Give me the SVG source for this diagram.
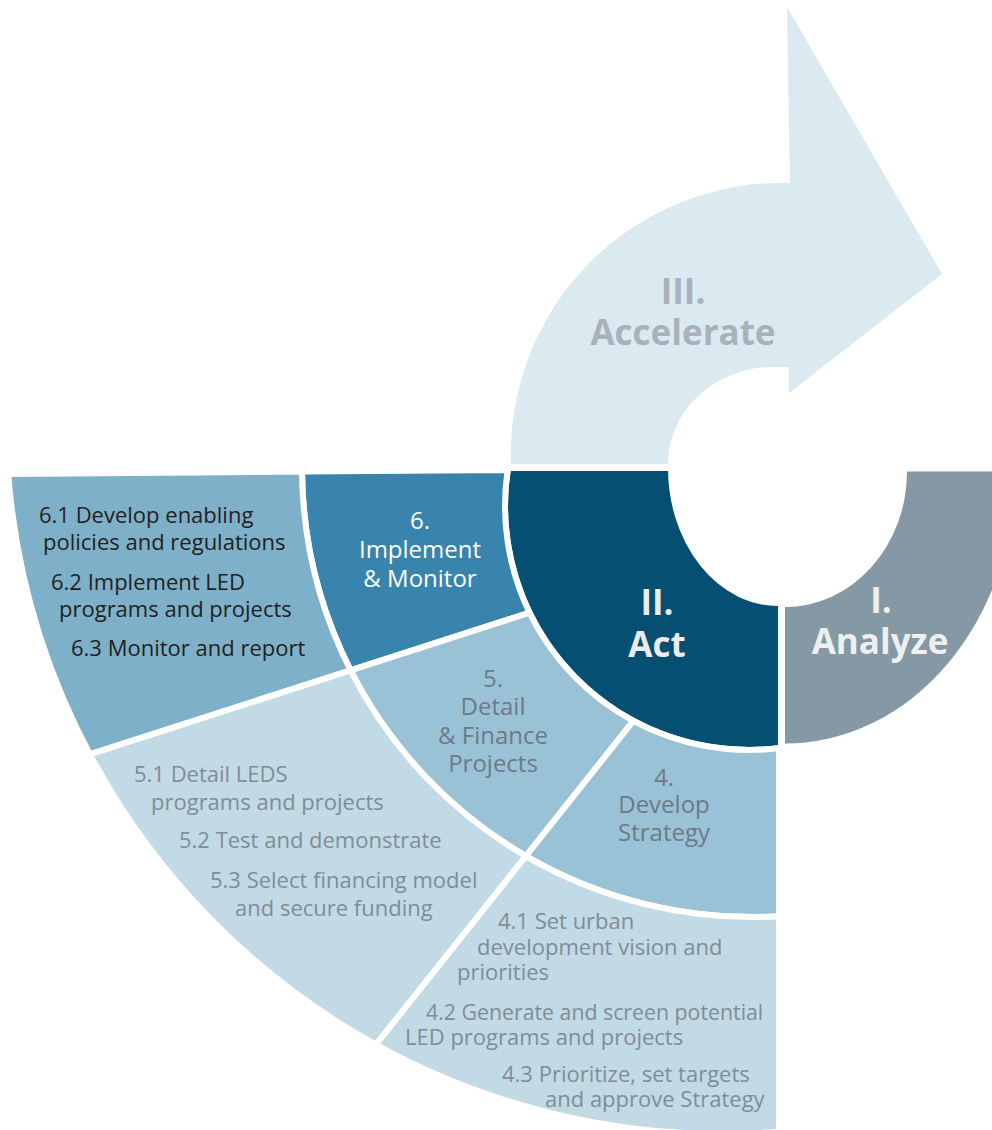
<svg xmlns="http://www.w3.org/2000/svg" width="992" height="1130" viewBox="0 0 992 1130">
<style>
.seg{stroke:#ffffff;stroke-width:6;stroke-linejoin:miter}
.big{font-family:"Open Sans","Noto Sans","Liberation Sans",sans-serif;font-weight:700;font-size:35px;text-anchor:middle}
.mid{font-family:"Open Sans","Noto Sans","Liberation Sans",sans-serif;font-size:24px;text-anchor:middle}
.sub{font-family:"Open Sans","Noto Sans","Liberation Sans",sans-serif;font-size:22px}
</style>
<rect width="992" height="1130" fill="#ffffff"/>
<g id="accelerate">
<path d="M511 464 A271 271 0 0 1 790 183 L787 7 L942 274 L789 393 L789 367 L773 367 A105 97 0 0 0 668 464 Z" fill="#dbe9f1"/>
<text class="big" x="683" y="304" fill="#a9b2ba">III.</text>
<text class="big" x="683" y="345" fill="#a9b2ba">Accelerate</text>
</g>
<g id="analyze">
<path d="M907 471.5 L1015 471.5 A230 272 0 0 1 785 743.5 L785 607 A122 135.5 0 0 0 907 471.5 Z" fill="#8499a5"/>
<text class="big" x="881" y="613" fill="#efefef">I.</text>
<text class="big" x="880" y="654" fill="#efefef">Analyze</text>
</g>
<g id="act">
<path class="seg" d="M508 468 L671 468 A107 135 0 0 0 778 603 L781 603 L781 747.9 A244 244 0 0 1 508 468 Z" fill="#054f73"/>
<text class="big" x="657" y="615" fill="#ececec">II.</text>
<text class="big" x="657" y="657" fill="#ececec">Act</text>
</g>
<g id="step6">
<path class="seg" d="M302 471.6 L507.7 470 A244 244 0 0 0 529.6 612.7 L350.6 670.4 A450 450 0 0 1 302 471.6 Z" fill="#3884ac"/>
<text class="mid" x="420" y="529" fill="#ffffff">6.</text>
<text class="mid" x="420" y="558" fill="#ffffff">Implement</text>
<text class="mid" x="420" y="587" fill="#ffffff">&amp; Monitor</text>
</g>
<g id="step5">
<path class="seg" d="M529.6 612.7 A244 244 0 0 0 633.4 720.9 L525.9 856.1 A450 450 0 0 1 350.6 670.4 Z" fill="#9ac2d6"/>
<text class="mid" x="493" y="687" fill="#6b7b86">5.</text>
<text class="mid" x="493" y="715" fill="#6b7b86">Detail</text>
<text class="mid" x="493" y="744" fill="#6b7b86">&amp; Finance</text>
<text class="mid" x="493" y="772" fill="#6b7b86">Projects</text>
</g>
<g id="step4">
<path class="seg" d="M633.4 720.9 A244 244 0 0 0 779 748.1 L779 916.2 A450 450 0 0 1 525.9 856.1 Z" fill="#9ac2d6"/>
<text class="mid" x="664" y="786" fill="#6b7b86">4.</text>
<text class="mid" x="664" y="813" fill="#6b7b86">Develop</text>
<text class="mid" x="664" y="841" fill="#6b7b86">Strategy</text>
</g>
<g id="tasks6">
<path class="seg" d="M8.2 474 L302 471.6 A450 450 0 0 0 350.6 670.4 L89.9 754.3 A716 716 0 0 1 8.2 474 Z" fill="#7eb0ca"/>
<text class="sub" fill="#231f20"><tspan x="39" y="523">6.1 Develop enabling</tspan><tspan x="43" y="550">policies and regulations</tspan><tspan x="51" y="590">6.2 Implement LED</tspan><tspan x="59" y="617">programs and projects</tspan><tspan x="71" y="656">6.3 Monitor and report</tspan></text>
</g>
<g id="tasks5">
<path class="seg" d="M350.6 670.4 A450 450 0 0 0 525.9 856.1 L375.9 1044.7 A716 716 0 0 1 89.9 754.3 Z" fill="#c1dae5"/>
<text class="sub" fill="#808d96"><tspan x="134" y="782">5.1 Detail LEDS</tspan><tspan x="151" y="810">programs and projects</tspan><tspan x="179" y="848">5.2 Test and demonstrate</tspan><tspan x="210" y="888">5.3 Select financing model</tspan><tspan x="235" y="916">and secure funding</tspan></text>
</g>
<g id="tasks4">
<path class="seg" d="M525.9 856.1 A450 450 0 0 0 779 916.2 L779 1131.7 A716 716 0 0 1 375.9 1044.7 Z" fill="#c1dae5"/>
<text class="sub" fill="#808d96"><tspan x="498" y="929">4.1 Set urban</tspan><tspan x="477" y="955">development vision and</tspan><tspan x="457" y="980">priorities</tspan><tspan x="426" y="1020" font-size="21.3">4.2 Generate and screen potential</tspan><tspan x="405" y="1045">LED programs and projects</tspan><tspan x="502" y="1082">4.3 Prioritize, set targets</tspan><tspan x="545" y="1107">and approve Strategy</tspan></text>
</g>
</svg>
